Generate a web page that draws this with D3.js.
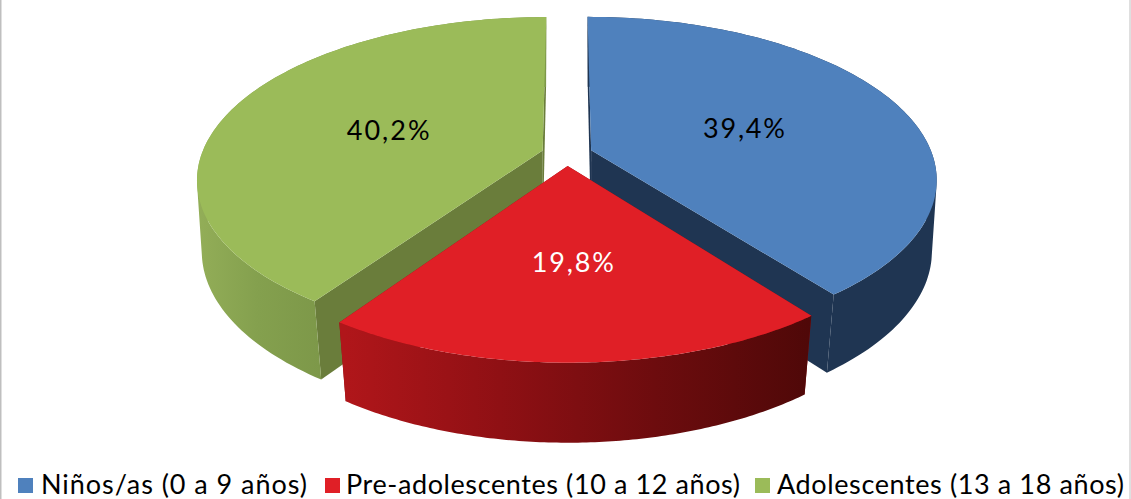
<!DOCTYPE html>
<html lang="es">
<head>
<meta charset="UTF-8">
<title>Grupos de edad</title>
<script src="https://d3js.org/d3.v7.min.js"></script>
<style>
    html, body { margin: 0; padding: 0; background: #fff; overflow: hidden; }
    svg { display: block; }
    text { font-family: Lato, sans-serif; fill: #000; }
</style>
</head>
<body>
<svg id="chart" width="1131" height="499"></svg>
<script>
// data
const categories = ["Niños/as (0 a 9 años)", "Pre-adolescentes (10 a 12 años)", "Adolescentes (13 a 18 años)"];
const values = [39.4, 19.8, 40.2];
const valueLabels = ["39,4%", "19,8%", "40,2%"];

// colours per slice
const topColors = ["#4f81bd", "#e01f26", "#9bbb59"];
const sideColors = ["#1f3552", "#8f1014", "#6a7d3b"];
const labelColors = ["#000", "#fff", "#000"];

const svg = d3.select("#chart");

// projection of the pie plane (u right, v towards the viewer)
const cx = 567, cy = 154;
const ax = 341, ay = 157.8, persp = 0.174;
const explode = 0.075, depth = 74, growY = 1.029;

function project(u, v, bottom) {
    const w = 1 / (1 - persp * v);
    let x = cx + ax * u * w;
    let y = cy + ay * v * w;
    if (bottom) {
        // the lower face narrows more towards the viewer
        x = cx + (x - cx) * (0.99 - 0.02 * v);
        y = cy + (y - cy) * growY + depth;
    }
    return [x, y];
}

const pie = d3.pie().sort(null);
const arcs = pie(values);

const line = d3.line();

function apexOf(a) {
    const mid = (a.startAngle + a.endAngle) / 2;
    return [explode * Math.sin(mid), -explode * Math.cos(mid)];
}

function rimOf(a, apex, n) {
    return d3.range(n + 1).map(i => {
        const t = a.startAngle + (a.endAngle - a.startAngle) * i / n;
        return [apex[0] + Math.sin(t), apex[1] - Math.cos(t)];
    });
}

// gradients for the outer walls
const defs = svg.append("defs");
function wallGradient(id, x1, x2, stops) {
    const g = defs.append("linearGradient").attr("id", id)
        .attr("gradientUnits", "userSpaceOnUse")
        .attr("x1", x1).attr("x2", x2).attr("y1", 0).attr("y2", 0);
    stops.forEach((c, i) => g.append("stop")
        .attr("offset", i / (stops.length - 1)).attr("stop-color", c));
}
wallGradient("wall0", 800, 940, ["#1f3552", "#1f3552"]);
wallGradient("wall1", 345, 810, ["#b0161a", "#8f1014", "#6d0c0e", "#4f0808"]);
wallGradient("wall2", 196, 320, ["#93ae58", "#84a04e", "#7d9849"]);

function drawSlice(i) {
    const a = arcs[i];
    const apex = apexOf(a);
    const rim = rimOf(a, apex, 120);
    const g = svg.append("g");

    // radial walls
    [rim[0], rim[rim.length - 1]].forEach(p => {
        g.append("path")
            .attr("d", line([project(apex[0], apex[1]), project(p[0], p[1]),
                project(p[0], p[1], true), project(apex[0], apex[1], true)]) + "Z")
            .attr("fill", sideColors[i]);
    });

    // outer wall: all quads in one path, same winding, so there are no seams
    const wall = d3.pairs(rim).map(([p, q]) => {
        const quad = [project(p[0], p[1]), project(q[0], q[1]),
            project(q[0], q[1], true), project(p[0], p[1], true)];
        if (d3.polygonArea(quad) < 0) quad.reverse();
        return line(quad) + "Z";
    }).join("");
    g.append("path").attr("d", wall).attr("fill", `url(#wall${i})`);

    // top face
    const top = [project(apex[0], apex[1])].concat(rim.map(p => project(p[0], p[1])));
    g.append("path").attr("d", line(top) + "Z").attr("fill", topColors[i]);
}

// back slices first, red one sits in front
[0, 2, 1].forEach(drawSlice);

// value labels
const labelRadius = [0.49, 0.53, 0.49];
const labelWidths = [82, 82, 83];
arcs.forEach((a, i) => {
    const apex = apexOf(a);
    const mid = (a.startAngle + a.endAngle) / 2;
    const r = labelRadius[i];
    const p = project(apex[0] + r * Math.sin(mid), apex[1] - r * Math.cos(mid));
    svg.append("text")
        .attr("x", p[0]).attr("y", p[1]).attr("dy", "0.42em")
        .attr("text-anchor", "middle")
        .attr("font-size", 27)
        .attr("textLength", labelWidths[i])
        .style("fill", labelColors[i])
        .text(valueLabels[i]);
});

// legend
const legendMarkerX = [18, 325, 755];
const legendTextX = [41, 346, 777];
const legendTextW = [266, 394, 347];
categories.forEach((c, i) => {
    svg.append("rect")
        .attr("x", legendMarkerX[i]).attr("y", 478)
        .attr("width", 15).attr("height", 15)
        .attr("fill", topColors[i]);
    svg.append("text")
        .attr("x", legendTextX[i]).attr("y", 494)
        .attr("font-size", 27)
        .attr("textLength", legendTextW[i])
        .text(c);
});

// frame
[0.5, 1, 1130].forEach(x => {
    svg.append("line").attr("x1", x).attr("x2", x).attr("y1", 0).attr("y2", 499)
        .attr("stroke", "#bfbfbf").attr("stroke-width", 1);
});
</script>
</body>
</html>
